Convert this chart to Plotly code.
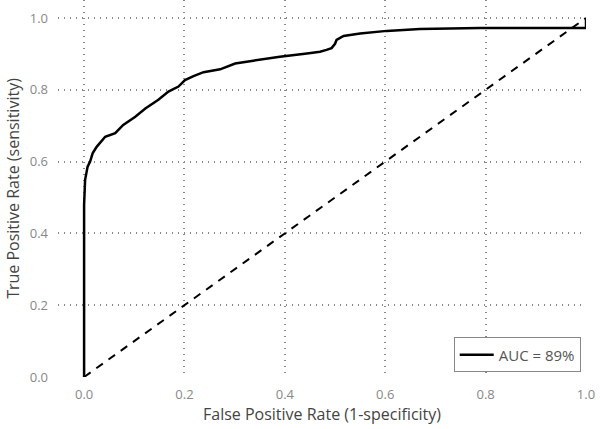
import plotly.graph_objects as go

fpr = [0.0, 0.0, 0.0, 0.002, 0.007, 0.012, 0.017, 0.025, 0.042, 0.062, 0.078, 0.102,
       0.122, 0.148, 0.168, 0.188, 0.201, 0.218, 0.238, 0.271, 0.301, 0.337, 0.390,
       0.444, 0.470, 0.483, 0.493, 0.500, 0.503, 0.517, 0.550, 0.603, 0.669, 0.789,
       1.0, 1.0]
tpr = [0.0, 0.30, 0.48, 0.549, 0.586, 0.600, 0.623, 0.641, 0.669, 0.679, 0.702, 0.725,
       0.748, 0.772, 0.795, 0.809, 0.827, 0.838, 0.849, 0.857, 0.873, 0.881, 0.892,
       0.901, 0.906, 0.911, 0.916, 0.928, 0.939, 0.950, 0.957, 0.964, 0.969, 0.972,
       0.972, 1.0]
diag = [0.0, 1.0]
tick_vals = [0.0, 0.2, 0.4, 0.6, 0.8, 1.0]
tick_text = ["0.0", "0.2", "0.4", "0.6", "0.8", "1.0"]
auc_label = "AUC = 89%"

fig = go.Figure()
fig.add_trace(go.Scatter(x=diag, y=diag, mode="lines",
                         line=dict(color="black", width=2, dash="8px,7px"),
                         showlegend=False, hoverinfo="skip"))
fig.add_trace(go.Scatter(x=fpr, y=tpr, mode="lines", name=auc_label,
                         line=dict(color="black", width=2.5)))

font_family = "Open Sans, DejaVu Sans, sans-serif"
fig.update_layout(
    width=600, height=429,
    margin=dict(l=58, r=14, t=0, b=52),
    paper_bgcolor="white", plot_bgcolor="white",
    font=dict(family=font_family),
    legend=dict(x=0.99, y=0.012, xanchor="right", yanchor="bottom",
                bgcolor="white", bordercolor="#888", borderwidth=1,
                font=dict(size=15, color="#555"), tracegroupgap=0,
                itemwidth=34),
)
grid = dict(showgrid=True, gridcolor="#888", griddash="1px,5px", gridwidth=1.5,
            zeroline=False, showline=False, ticks="", automargin=False,
            tickfont=dict(size=13, color="#888"))
fig.update_xaxes(range=[-0.052, 1.0], tickvals=tick_vals, ticktext=tick_text,
                 ticklabelstandoff=8, **grid,
                 title=dict(text="False Positive Rate (1-specificity)",
                            font=dict(size=16, color="#444"), standoff=2))
fig.update_yaxes(range=[0.0, 1.05], tickvals=tick_vals, ticktext=tick_text,
                 ticklabelstandoff=9, **grid,
                 title=dict(text="True Positive Rate (sensitivity)",
                            font=dict(size=16, color="#444"), standoff=6))

fig.write_html("out.html", config={"displayModeBar": False},
               post_script="document.body.style.margin='0';document.body.style.overflow='hidden';")
